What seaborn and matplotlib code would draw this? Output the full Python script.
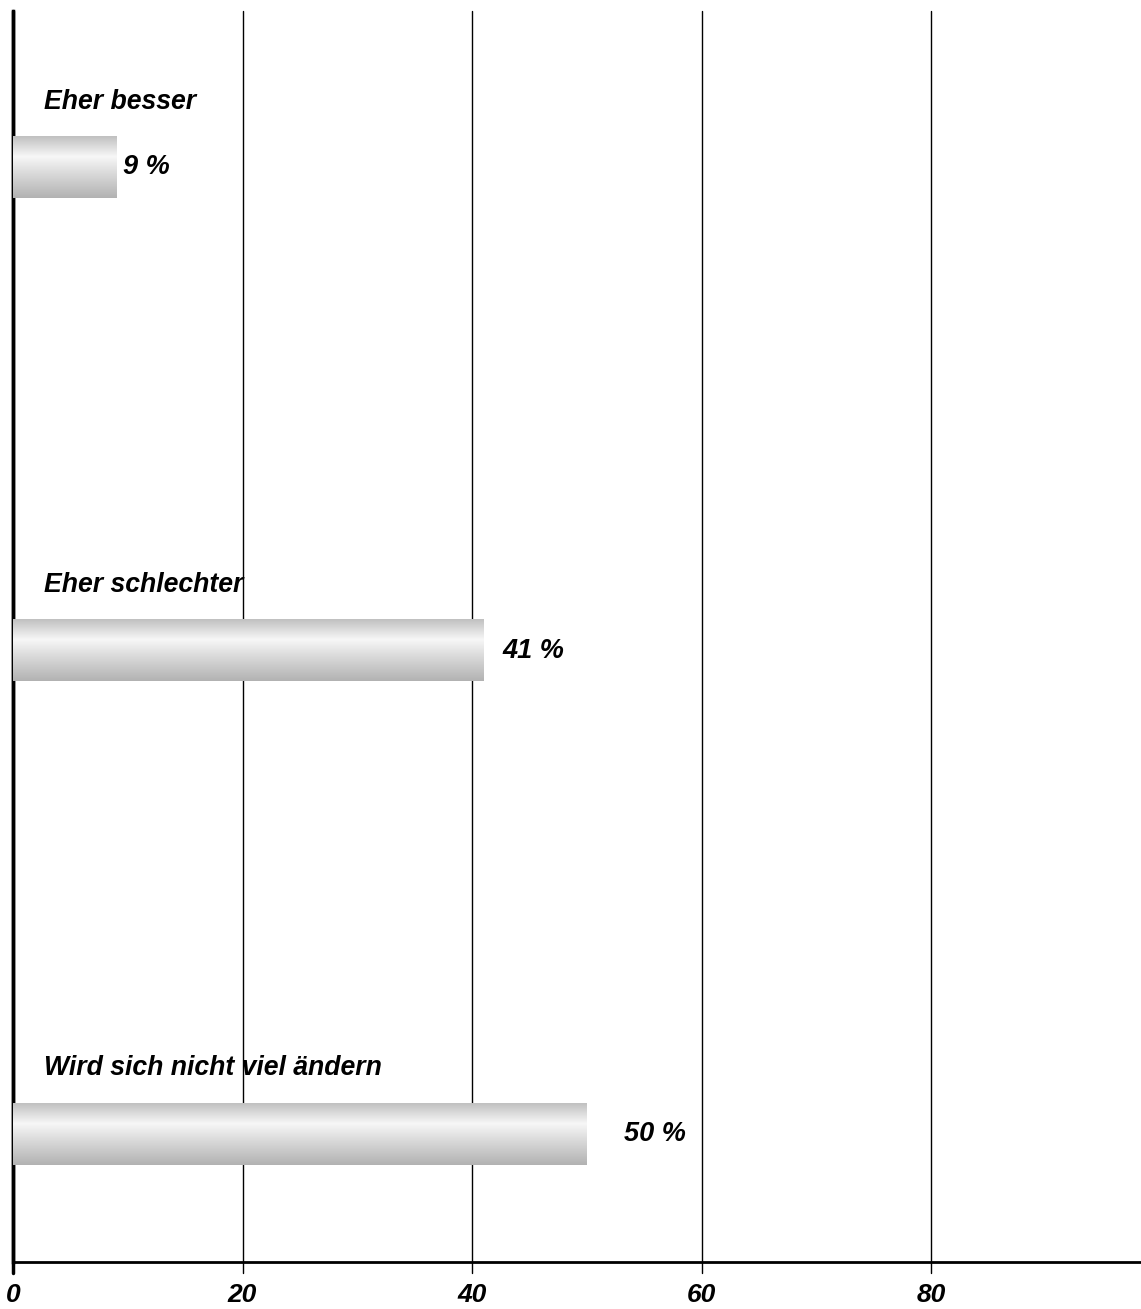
import numpy as np
import pandas as pd
import matplotlib
matplotlib.use("Agg")
import matplotlib.pyplot as plt
import seaborn as sns
from matplotlib.colors import LinearSegmentedColormap

categories = ["Eher besser", "Eher schlechter", "Wird sich nicht viel ändern"]
values = [9, 41, 50]
value_labels = ["9 %", "41 %", "50 %"]
x_ticks = [0, 20, 40, 60, 80]

# horizontal gap (points) between each bar end and its value label
label_gaps = [5, 14, 27]

sns.set_theme(style="white")
plt.rcParams["font.family"] = ["Liberation Sans", "DejaVu Sans"]
plt.rcParams["text.color"] = "black"

df = pd.DataFrame({"Kategorie": categories, "Anteil": values})

fig = plt.figure(figsize=(11.41, 13.09), dpi=100)
ax_h_px = 1251
ax = fig.add_axes([13 / 1141, 47 / 1309, 1 - 13 / 1141, ax_h_px / 1309])

bar_h = 0.128
sns.barplot(data=df, x="Anteil", y="Kategorie", orient="h", width=bar_h,
            color="#d0d0d0", edgecolor="none", ax=ax, zorder=3)

# vertical metallic gradient on each bar
grad_cmap = LinearSegmentedColormap.from_list(
    "metal", [(0.0, "#c0c0c0"), (0.33, "#f7f7f7"), (0.6, "#dadada"), (1.0, "#b2b2b2")])
grad = np.linspace(0, 1, 256).reshape(-1, 1)
for patch in ax.patches:
    x0 = patch.get_x()
    w = patch.get_width()
    y0 = patch.get_y()
    h = patch.get_height()
    ax.imshow(grad, cmap=grad_cmap, aspect="auto", origin="upper",
              extent=(x0, x0 + w, y0 + h, y0), zorder=4, interpolation="bilinear")
    patch.set_facecolor("none")

# category captions above the bars and value labels to the right
for i, (cat, val, lab, gap) in enumerate(zip(categories, values, value_labels, label_gaps)):
    ax.text(2.7, i - 0.121, cat, fontsize=19.2, fontweight="bold", fontstyle="italic",
            color="black", ha="left", va="baseline", zorder=5)
    ax.annotate(lab, xy=(val, i), xytext=(gap, 0), textcoords="offset points",
                fontsize=19.5, fontweight="bold", fontstyle="italic", color="black",
                ha="left", va="center", zorder=5)

ax.set_xlim(0, 98.3)
ax.set_ylim(2.265, -0.323)
ax.set_xticks(x_ticks)
ax.set_xticklabels([str(t) for t in x_ticks], fontsize=19, fontweight="bold",
                   fontstyle="italic", color="black")
ax.set_yticks([])
ax.set_xlabel("")
ax.set_ylabel("")

# vertical gridlines that run a little past the baseline as tick marks
tick_len = 11 / ax_h_px
for t in x_ticks:
    ax.axvline(t, ymin=-tick_len, ymax=1, color="black",
               linewidth=2.5 if t == 0 else 1.0, clip_on=False, zorder=1)
ax.tick_params(axis="x", bottom=False, length=11, pad=4, labelcolor="black")

for side in ["top", "right"]:
    ax.spines[side].set_visible(False)
ax.spines["left"].set_linewidth(2.5)
ax.spines["left"].set_color("black")
ax.spines["bottom"].set_linewidth(2.0)
ax.spines["bottom"].set_color("black")

fig.savefig("out.png", dpi=100, facecolor="white")
